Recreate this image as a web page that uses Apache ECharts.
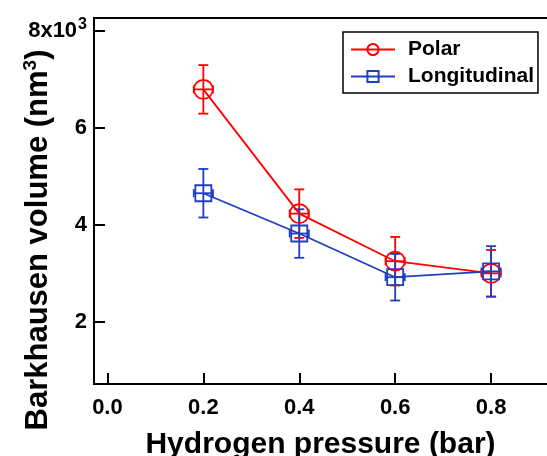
<!DOCTYPE html>
<html><head><meta charset="utf-8">
<script src="https://cdn.jsdelivr.net/npm/echarts@6/dist/echarts.min.js"></script>
<style>html,body{margin:0;padding:0;background:#fff}#c{width:547px;height:456px}</style>
</head><body><div id="c"></div>
<script>
const pressure = [0.2, 0.4, 0.6, 0.8];
const polarVol = [6.79, 4.23, 3.25, 3.00];
const polarErr = [0.50, 0.50, 0.50, 0.48];
const longVol = [4.65, 3.82, 2.92, 3.04];
const longErr = [0.50, 0.50, 0.48, 0.52];
const xErr = [0.02, 0.02, 0.02, 0.02];
const xTicks = [0.0, 0.2, 0.4, 0.6, 0.8];
const yTicks = [2, 4, 6, 8];

const RED = '#ff0000', BLUE = '#1f3fbf';
const FONT = '"Liberation Sans", Arial, sans-serif';

function errSeries(name, color, ys, errs) {
  const data = pressure.map((x, i) => [x, ys[i], errs[i], xErr[i]]);
  return {
    type: 'custom', name: name + ' err', z: 3,
    encode: { x: 0, y: 1 },
    data: data,
    renderItem: function (params, api) {
      const x = api.value(0), y = api.value(1), e = api.value(2), xe = api.value(3);
      const top = api.coord([x, y + e]);
      const bot = api.coord([x, y - e]);
      const left = api.coord([x - xe, y]);
      const right = api.coord([x + xe, y]);
      const cw = 5, ch = 4;
      const st = { stroke: color, lineWidth: 1.8 };
      return {
        type: 'group',
        children: [
          { type: 'line', shape: { x1: top[0], y1: top[1], x2: bot[0], y2: bot[1] }, style: st },
          { type: 'line', shape: { x1: top[0] - cw, y1: top[1], x2: top[0] + cw, y2: top[1] }, style: st },
          { type: 'line', shape: { x1: bot[0] - cw, y1: bot[1], x2: bot[0] + cw, y2: bot[1] }, style: st },
          { type: 'line', shape: { x1: left[0], y1: left[1], x2: right[0], y2: right[1] }, style: st },
          { type: 'line', shape: { x1: left[0], y1: left[1] - ch, x2: left[0], y2: left[1] + ch }, style: st },
          { type: 'line', shape: { x1: right[0], y1: right[1] - ch, x2: right[0], y2: right[1] + ch }, style: st }
        ]
      };
    }
  };
}

const chart = echarts.init(document.getElementById('c'), null, { renderer: 'canvas' });
chart.setOption({
  animation: false,
  backgroundColor: '#fff',
  textStyle: { fontFamily: FONT },
  grid: { left: 94, top: 18, bottom: 72, right: -40, containLabel: false, outerBoundsMode: 'none',
    show: true, borderColor: '#000', borderWidth: 2 },
  legend: {
    data: ['Polar', 'Longitudinal'],
    orient: 'vertical',
    left: 343, top: 32,
    padding: [7, 4, 6, 7],
    itemGap: 6,
    itemWidth: 44, itemHeight: 14,
    borderColor: '#000', borderWidth: 1.5,
    backgroundColor: '#fff',
    textStyle: { fontFamily: FONT, fontWeight: 'bold', fontSize: 21, color: '#000', padding: [0, 0, 0, 8] }
  },
  xAxis: {
    type: 'value', min: -0.028, max: 1.0,
    name: 'Hydrogen pressure (bar)', nameLocation: 'middle', nameGap: 46, nameMoveOverlap: false,
    nameTextStyle: { fontFamily: FONT, fontWeight: 'bold', fontSize: 30, color: '#000', padding: [0, 40, 0, 0] },
    axisLine: { onZero: false, lineStyle: { color: '#000', width: 2 } },
    axisTick: { inside: true, length: 11, lineStyle: { width: 2, color: '#000' }, customValues: xTicks },
    axisLabel: { customValues: xTicks, margin: 13, fontFamily: FONT, fontWeight: 'bold', fontSize: 22, color: '#000',
      formatter: v => v.toFixed(1) },
    splitLine: { show: false }
  },
  yAxis: {
    type: 'value', min: 0.72, max: 8.26,
    name: 'Barkhausen volume (nm{sup|3})', nameLocation: 'middle', nameGap: 38, nameMoveOverlap: false,
    nameTextStyle: { fontFamily: FONT, fontWeight: 'bold', fontSize: 31, color: '#000', padding: [0, 78, 0, 0],
      rich: { sup: { fontFamily: FONT, fontWeight: 'bold', fontSize: 19, color: '#000', verticalAlign: 'bottom', padding: [0, 0, 16, 0] } } },
    axisLine: { onZero: false, lineStyle: { color: '#000', width: 2 } },
    axisTick: { inside: true, length: 11, lineStyle: { width: 2, color: '#000' }, customValues: yTicks },
    axisLabel: { customValues: yTicks, margin: 7, fontFamily: FONT, fontWeight: 'bold', fontSize: 22, color: '#000',
      formatter: v => v === 8 ? '8x10{sup|3}' : String(v),
      rich: { sup: { fontFamily: FONT, fontWeight: 'bold', fontSize: 16, color: '#000', verticalAlign: 'bottom', padding: [0, 0, 12, 1] } } },
    splitLine: { show: false }
  },
  series: [
    errSeries('Polar', RED, polarVol, polarErr),
    errSeries('Longitudinal', BLUE, longVol, longErr),
    {
      name: 'Polar', type: 'line', z: 4,
      data: pressure.map((x, i) => [x, polarVol[i]]),
      symbol: 'circle', symbolSize: 19,
      lineStyle: { color: RED, width: 1.8 },
      itemStyle: { color: 'rgba(0,0,0,0)', borderColor: RED, borderWidth: 1.8 }
    },
    {
      name: 'Longitudinal', type: 'line', z: 4,
      data: pressure.map((x, i) => [x, longVol[i]]),
      symbol: 'rect', symbolSize: 16,
      lineStyle: { color: BLUE, width: 1.8 },
      itemStyle: { color: 'rgba(0,0,0,0)', borderColor: BLUE, borderWidth: 1.8 }
    }
  ]
});
</script></body></html>
